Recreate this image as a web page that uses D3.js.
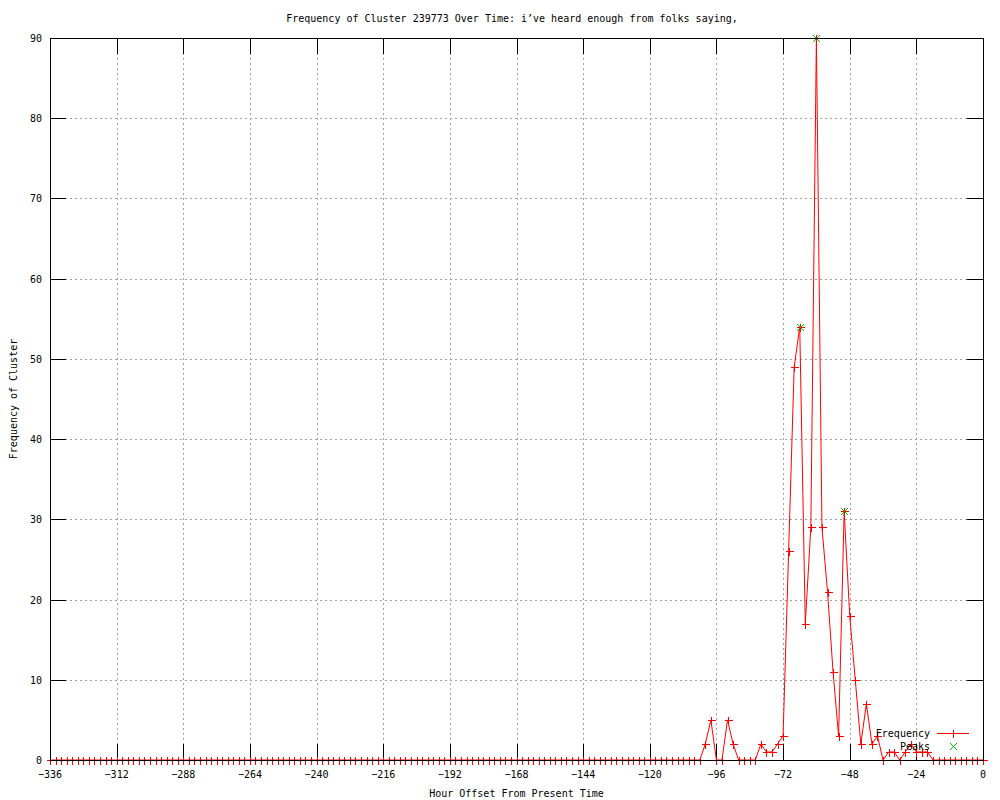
<!DOCTYPE html>
<html>
<head>
<meta charset="utf-8">
<script src="https://cdn.jsdelivr.net/npm/d3@7"></script>
<style>
  body { margin: 0; background: #fff; }
  text { font-family: "DejaVu Sans Mono", monospace; font-size: 10px; fill: #000; }
</style>
</head>
<body>
<svg id="chart" width="1000" height="800"></svg>
<script>
// hours: every 2 hours from -336 up to 0
var hours = d3.range(-336, 1, 2);
// non-zero counts, everything else is 0
var counts = {
  "-100": 2, "-98": 5, "-92": 5, "-90": 2,
  "-80": 2, "-78": 1, "-76": 1, "-74": 2, "-72": 3,
  "-70": 26, "-68": 49, "-66": 54, "-64": 17, "-62": 29,
  "-60": 90, "-58": 29, "-56": 21, "-54": 11, "-52": 3,
  "-50": 31, "-48": 18, "-46": 10, "-44": 2, "-42": 7,
  "-40": 2, "-38": 3, "-34": 1, "-32": 1,
  "-28": 1, "-26": 2, "-24": 1, "-22": 1, "-20": 1
};
var peakHours = [-66, -60, -50];
var xTicks = d3.range(-336, 1, 24);
var yTicks = d3.range(0, 91, 10);

var titleText = "Frequency of Cluster 239773 Over Time: i\u2019ve heard enough from folks saying,";
var xLabel = "Hour Offset From Present Time";
var yLabel = "Frequency of Cluster";

var margin = { top: 38, bottom: 40, left: 50, right: 17 };
var width = 1000, height = 800;

var svg = d3.select("#chart");

var freqData = hours.map(h => ({ h: h, v: counts[h] || 0 }));
var peakData = peakHours.map(h => ({ h: h, v: counts[h] || 0 }));

var x = d3.scaleLinear()
  .domain([-336, 0])
  .range([margin.left, width - margin.right]);
var y = d3.scaleLinear()
  .domain([0, 90])
  .range([height - margin.bottom, margin.top]);

var x0 = x.range()[0], x1 = x.range()[1];
var y0 = y.range()[0], y1 = y.range()[1];
var tickLen = 16;
var px = v => Math.round(v) + 0.5;

// grid
var grid = svg.append("g")
  .attr("stroke", "#a0a0a0")
  .attr("stroke-dasharray", "2,3")
  .attr("shape-rendering", "crispEdges");
grid.selectAll(".vgrid")
  .data(xTicks.slice(1, -1))
  .enter()
  .append("line")
  .attr("x1", d => px(x(d)))
  .attr("x2", d => px(x(d)))
  .attr("y1", y0).attr("y2", y1);
grid.selectAll(".hgrid")
  .data(yTicks.slice(1, -1))
  .enter()
  .append("line")
  .attr("y1", d => px(y(d)))
  .attr("y2", d => px(y(d)))
  .attr("x1", x0).attr("x2", x1);

// ticks on all four sides, pointing inward
var ticks = svg.append("g")
  .attr("stroke", "#000")
  .attr("shape-rendering", "crispEdges");
xTicks.forEach(t => {
  var tx = px(x(t));
  ticks.append("line").attr("x1", tx).attr("x2", tx).attr("y1", y0).attr("y2", y0 - tickLen);
  ticks.append("line").attr("x1", tx).attr("x2", tx).attr("y1", y1).attr("y2", y1 + tickLen);
});
yTicks.forEach(t => {
  var ty = px(y(t));
  ticks.append("line").attr("y1", ty).attr("y2", ty).attr("x1", x0).attr("x2", x0 + tickLen);
  ticks.append("line").attr("y1", ty).attr("y2", ty).attr("x1", x1).attr("x2", x1 - tickLen);
});

// tick labels
svg.append("g").selectAll("text")
  .data(xTicks)
  .enter()
  .append("text")
  .attr("x", d => x(d))
  .attr("y", y0 + 18)
  .attr("text-anchor", "middle")
  .text(d => d === 0 ? "0" : "\u2212" + Math.abs(d));
svg.append("g").selectAll("text")
  .data(yTicks)
  .enter()
  .append("text")
  .attr("x", x0 - 8)
  .attr("y", d => y(d) + 4)
  .attr("text-anchor", "end")
  .text(d => d);

// frequency line + markers
var line = d3.line().x(d => x(d.h)).y(d => y(d.v));
svg.append("path")
  .datum(freqData)
  .attr("fill", "none")
  .attr("stroke", "#ff0000")
  .attr("stroke-width", 1)
  .attr("d", line);

var ms = 3.5;
var plusAt = (cx, cy) => {
  cx = px(cx); cy = px(cy);
  return `M${cx - 4},${cy}H${cx + 4}M${cx},${cy - 4}V${cy + 4}`;
};
var cross = (cx, cy) => {
  cx = Math.round(cx) + 0.5; cy = Math.round(cy) + 0.5;
  return `M${cx - ms},${cy - ms}L${cx + ms},${cy + ms}M${cx - ms},${cy + ms}L${cx + ms},${cy - ms}`;
};

svg.append("g")
  .attr("shape-rendering", "crispEdges")
  .selectAll("path")
  .data(freqData)
  .enter()
  .append("path")
  .attr("d", d => plusAt(x(d.h), y(d.v)))
  .attr("stroke", "#ff0000")
  .attr("stroke-width", 1)
  .attr("fill", "none");

// peaks
svg.append("g").selectAll("path")
  .data(peakData)
  .enter()
  .append("path")
  .attr("d", d => cross(x(d.h), y(d.v)))
  .attr("stroke", "#00c000")
  .attr("stroke-width", 1)
  .attr("fill", "none");

// border
svg.append("rect")
  .attr("x", x0 + 0.5).attr("y", y1 + 0.5)
  .attr("width", x1 - x0).attr("height", y0 - y1)
  .attr("fill", "none")
  .attr("stroke", "#000")
  .attr("shape-rendering", "crispEdges");

// legend
var legX = 930, sampleL = 937, sampleR = 969;
var legend = svg.append("g");
legend.append("text").attr("x", legX).attr("y", 737).attr("text-anchor", "end").text("Frequency");
legend.append("line")
  .attr("x1", sampleL).attr("x2", sampleR).attr("y1", 733.5).attr("y2", 733.5)
  .attr("stroke", "#ff0000").attr("shape-rendering", "crispEdges");
legend.append("path")
  .attr("d", plusAt((sampleL + sampleR) / 2, 733))
  .attr("stroke", "#ff0000").attr("fill", "none").attr("shape-rendering", "crispEdges");
legend.append("text").attr("x", legX).attr("y", 750).attr("text-anchor", "end").text("Peaks");
legend.append("path")
  .attr("d", cross((sampleL + sampleR) / 2, 746))
  .attr("stroke", "#00c000").attr("fill", "none");

// titles
svg.append("text")
  .attr("x", 512).attr("y", 22)
  .attr("text-anchor", "middle")
  .text(titleText);
svg.append("text")
  .attr("x", (x0 + x1) / 2).attr("y", 797)
  .attr("text-anchor", "middle")
  .text(xLabel);
svg.append("text")
  .attr("transform", `translate(17,${(y0 + y1) / 2}) rotate(-90)`)
  .attr("text-anchor", "middle")
  .text(yLabel);
</script>
</body>
</html>
